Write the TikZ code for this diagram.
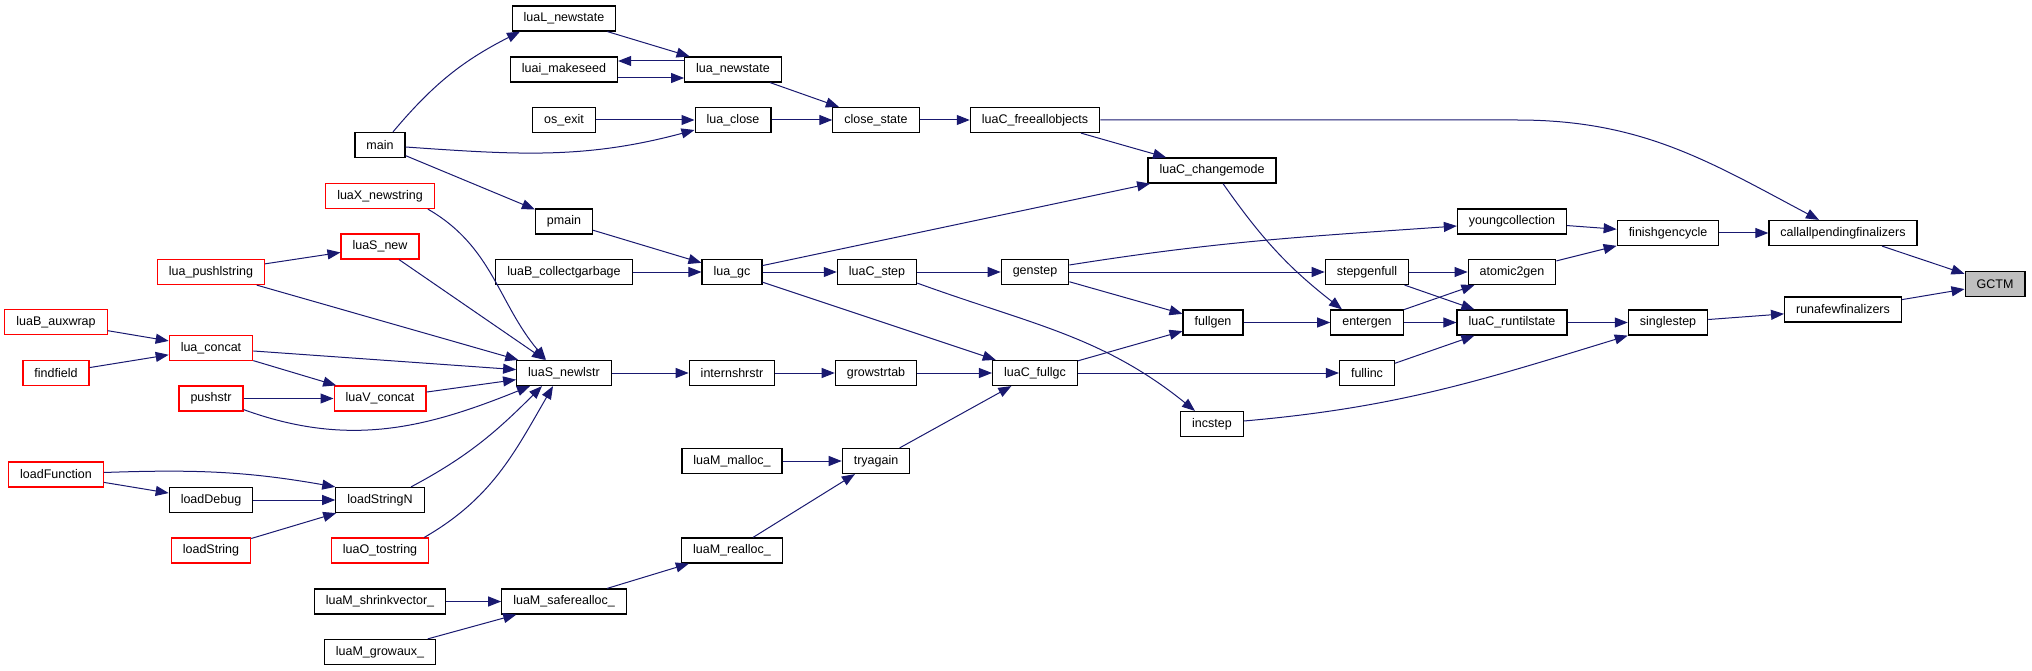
\documentclass[tikz,border=0pt]{standalone}
\usepackage{fontspec}
\setmainfont{Liberation Sans}
\usetikzlibrary{arrows.meta}

\definecolor{edgeblue}{HTML}{191970}

\tikzset{
  fn/.style={draw=black, fill=white, line width=1.2pt, minimum height=25pt,
    inner xsep=11.5pt, inner ysep=0pt, font=\fontsize{12.5}{15}\selectfont},
  fnred/.style={fn, draw=red},
  fnself/.style={fn, fill=gray!50},
  call/.style={draw=edgeblue, line width=1pt, -{Triangle[length=13pt,width=10pt]}}
}

\begin{document}
\begin{tikzpicture}[x=1pt,y=-1pt]
\useasboundingbox (0,0) rectangle (2032,671);

% Column 1
\node[fnred] (auxwrap) at (56,322) {luaB\_auxwrap};
\node[fnred] (findfield) at (56,373) {findfield};
\node[fnred] (loadfunction) at (56,474.5) {loadFunction};

% Column 2
\node[fnred] (pushlstring) at (211,272) {lua\_pushlstring};
\node[fnred] (concat) at (211,348) {lua\_concat};
\node[fnred] (pushstr) at (211,398.5) {pushstr};
\node[fn] (loaddebug) at (211,500) {loadDebug};
\node[fnred] (loadstring) at (211,550.5) {loadString};

% Column 3
\node[fn] (main) at (380,145) {main};
\node[fnred] (newstring) at (380,196) {luaX\_newstring};
\node[fnred] (snew) at (380,246.5) {luaS\_new};
\node[fnred] (vconcat) at (380,398.5) {luaV\_concat};
\node[fn] (loadstringn) at (380,500) {loadStringN};
\node[fnred] (tostring) at (380,550.5) {luaO\_tostring};
\node[fn] (shrinkvector) at (380,601.5) {luaM\_shrinkvector\_};
\node[fn] (growaux) at (380,652) {luaM\_growaux\_};

% Column 4
\node[fn] (Lnewstate) at (564,18.5) {luaL\_newstate};
\node[fn] (makeseed) at (564,69.5) {luai\_makeseed};
\node[fn] (osexit) at (564,120) {os\_exit};
\node[fn] (pmain) at (564,221.5) {pmain};
\node[fn] (collectgarbage) at (564,272) {luaB\_collectgarbage};
\node[fn] (newlstr) at (564,373) {luaS\_newlstr};
\node[fn] (saferealloc) at (564,601.5) {luaM\_saferealloc\_};

% Column 5
\node[fn] (newstate) at (733,69.5) {lua\_newstate};
\node[fn] (luaclose) at (733,120) {lua\_close};
\node[fn] (luagc) at (732,272) {lua\_gc};
\node[fn] (internshrstr) at (732,373) {internshrstr};
\node[fn] (malloc) at (732,461) {luaM\_malloc\_};
\node[fn] (realloc) at (732,550.5) {luaM\_realloc\_};

% Column 6
\node[fn] (closestate) at (876,120) {close\_state};
\node[fn] (cstep) at (877,272) {luaC\_step};
\node[fn] (growstrtab) at (876,373) {growstrtab};
\node[fn] (tryagain) at (876,461) {tryagain};

% Column 7
\node[fn] (freeall) at (1035,120) {luaC\_freeallobjects};
\node[fn] (genstep) at (1035,272) {genstep};
\node[fn] (fullgc) at (1035,373) {luaC\_fullgc};

% Column 8
\node[fn] (changemode) at (1212,170.5) {luaC\_changemode};
\node[fn] (fullgen) at (1213,322.5) {fullgen};
\node[fn] (incstep) at (1212,424) {incstep};

% Column 9
\node[fn] (stepgenfull) at (1367,272) {stepgenfull};
\node[fn] (entergen) at (1367,322.5) {entergen};
\node[fn] (fullinc) at (1367,373) {fullinc};

% Column 10
\node[fn] (youngcoll) at (1512,221.5) {youngcollection};
\node[fn] (atomicgen) at (1512,272) {atomic2gen};
\node[fn] (runtilstate) at (1512,322.5) {luaC\_runtilstate};

% Column 11
\node[fn] (finishgen) at (1668,233) {finishgencycle};
\node[fn] (singlestep) at (1668,322.5) {singlestep};

% Column 12
\node[fn] (callall) at (1843,233) {callallpendingfinalizers};
\node[fn] (runafew) at (1843,309.5) {runafewfinalizers};

% GCTM
\node[fnself] (gctm) at (1995,284) {GCTM};

% state creation and closing
\draw[call] ([xshift=13pt]main.north) to[out=50,in=207] ([xshift=-44pt]Lnewstate.south);
\draw[call] (Lnewstate) -- (newstate);
\draw[call] ([yshift=8.5pt]newstate.west) -- ([yshift=8.5pt]makeseed.east);
\draw[call] ([yshift=-8.5pt]makeseed.east) -- ([yshift=-8.5pt]newstate.west);
\draw[call] (osexit) -- (luaclose);
\draw[call] ([yshift=-2pt]main.east) to[out=-4,in=195] ([yshift=-10pt]luaclose.west);
\draw[call] (main) -- (pmain);
\draw[call] (newstate) -- (closestate);
\draw[call] (luaclose) -- (closestate);
\draw[call] (closestate) -- (freeall);
\draw[call] (freeall) -- (changemode);
\draw[call] (freeall.east) -- ++(417,0) to[out=0,in=152] ([xshift=-24pt]callall.north);

% lua_gc
\draw[call] (pmain) -- (luagc);
\draw[call] (collectgarbage) -- (luagc);
\draw[call] (luagc) -- (changemode);
\draw[call] (luagc) -- (cstep);
\draw[call] (luagc) -- (fullgc);
\draw[call] (cstep) -- (genstep);
\draw[call] ([yshift=2pt]cstep.south east) to[out=-20,in=141] ([xshift=-17pt]incstep.north);

% generational steps
\draw[call] ([yshift=7pt]genstep.east) to[out=9,in=184] ([yshift=-4.5pt]youngcoll.west);
\draw[call] (genstep) -- (stepgenfull);
\draw[call] (genstep) -- (fullgen);
\draw[call] ([xshift=11pt]changemode.south) to[out=-55,in=142] ([xshift=-25pt]entergen.north);
\draw[call] (fullgen) -- (entergen);
\draw[call] (fullgc) -- (fullgen);
\draw[call] (fullgc) -- (fullinc);
\draw[call] (stepgenfull) -- (atomicgen);
\draw[call] (stepgenfull) -- (runtilstate);
\draw[call] (entergen) -- (atomicgen);
\draw[call] (entergen) -- (runtilstate);
\draw[call] (fullinc) -- (runtilstate);
\draw[call] (youngcoll) -- (finishgen);
\draw[call] (atomicgen) -- (finishgen);
\draw[call] (runtilstate) -- (singlestep);
\draw[call] ([yshift=3pt]incstep.east) to[out=5,in=197] (singlestep.south west);
\draw[call] (finishgen) -- (callall);
\draw[call] (singlestep) -- (runafew);
\draw[call] (callall) -- (gctm);
\draw[call] (runafew) -- (gctm);

% strings
\draw[call] ([xshift=-7pt]newstring.south east) to[out=-30,in=130] ([xshift=-18pt]newlstr.north);
\draw[call] (snew) -- (newlstr);
\draw[call] (pushlstring) -- (snew);
\draw[call] (pushlstring) -- (newlstr);
\draw[call] (auxwrap) -- (concat);
\draw[call] (findfield) -- (concat);
\draw[call] (concat) -- (newlstr);
\draw[call] (concat) -- (vconcat);
\draw[call] (pushstr) -- (vconcat);
\draw[call] ([yshift=2pt]pushstr.south east) to[out=-20,in=202] ([xshift=-34pt]newlstr.south);
\draw[call] (vconcat) -- (newlstr);
\draw[call] ([yshift=2pt]loadfunction.east) to[out=2,in=170] (loadstringn.north west);
\draw[call] (loadfunction) -- (loaddebug);
\draw[call] (loaddebug) -- (loadstringn);
\draw[call] (loadstring) -- (loadstringn);
\draw[call] ([xshift=31pt]loadstringn.north) to[out=28,in=225] ([xshift=-22pt]newlstr.south);
\draw[call] ([xshift=-5pt]tostring.north east) to[out=30,in=240] ([xshift=-11pt]newlstr.south);
\draw[call] (newlstr) -- (internshrstr);
\draw[call] (internshrstr) -- (growstrtab);
\draw[call] (growstrtab) -- (fullgc);

% memory
\draw[call] (tryagain) -- (fullgc);
\draw[call] (malloc) -- (tryagain);
\draw[call] (realloc) -- (tryagain);
\draw[call] (saferealloc) -- (realloc);
\draw[call] (shrinkvector) -- (saferealloc);
\draw[call] (growaux) -- (saferealloc);

\end{tikzpicture}
\end{document}
